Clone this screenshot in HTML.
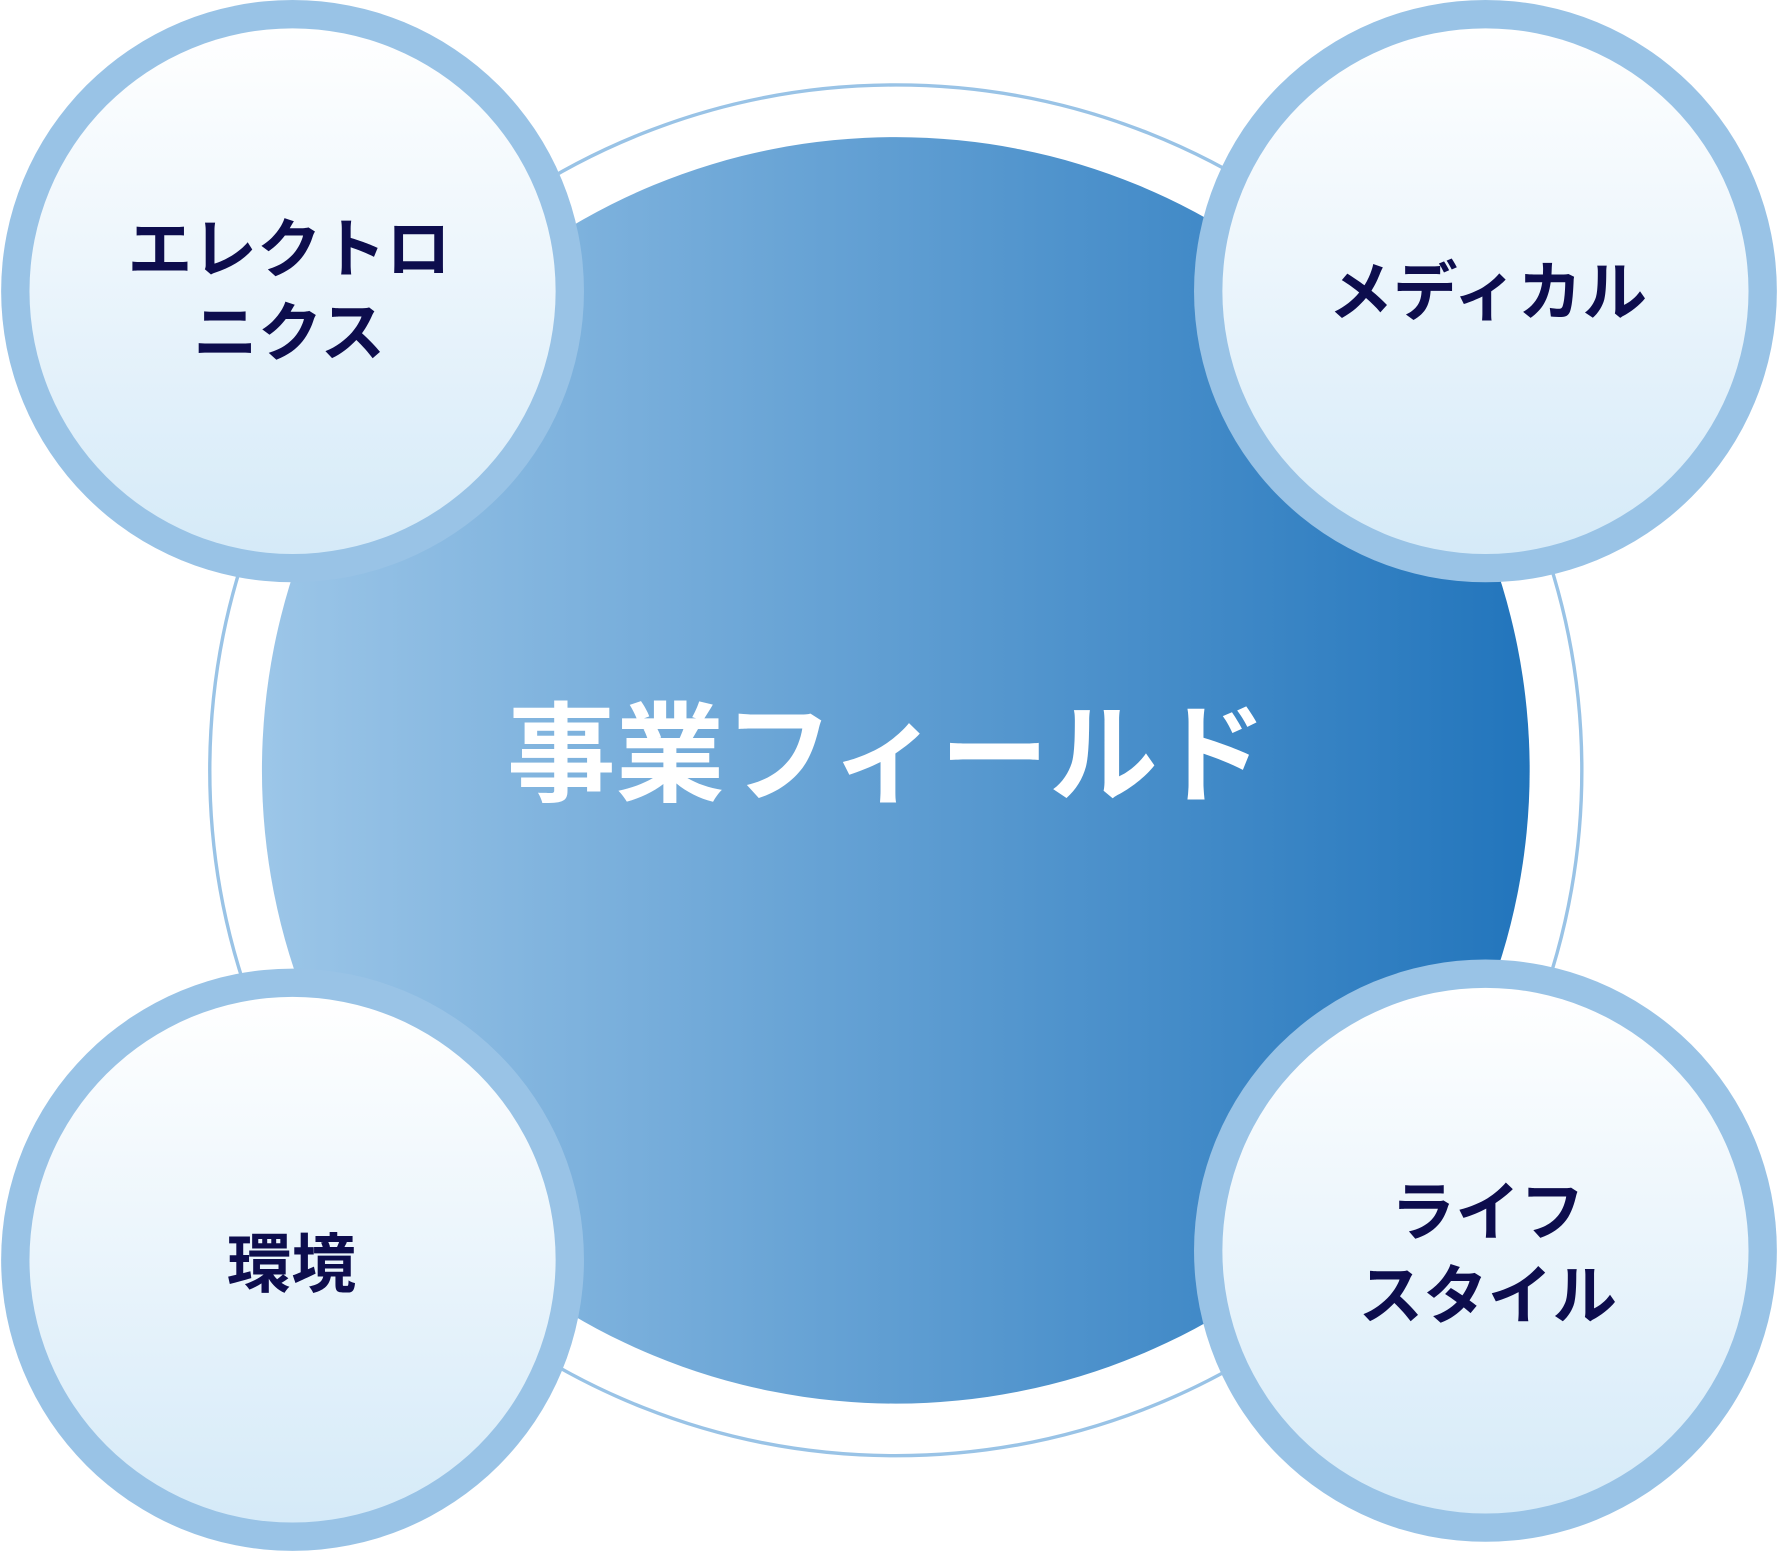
<!DOCTYPE html>
<html><head><meta charset="utf-8"><style>
html,body{margin:0;padding:0;background:#fff;}
svg{display:block;}
text{font-family:"Liberation Sans","Noto Sans CJK JP",sans-serif;font-weight:bold;}
</style></head><body>
<svg width="1778" height="1552" viewBox="0 0 1568 1370" preserveAspectRatio="none" xmlns="http://www.w3.org/2000/svg">
<defs>
<linearGradient id="big" x1="0" y1="0" x2="1" y2="0">
<stop offset="0" stop-color="#9cc6e8"/>
<stop offset="1" stop-color="#2275bc"/>
</linearGradient>
<linearGradient id="small" x1="0" y1="0" x2="0" y2="1">
<stop offset="0" stop-color="#ffffff"/>
<stop offset="1" stop-color="#d5eaf8"/>
</linearGradient>
</defs>
<rect width="1568" height="1370" fill="#fff"/>
<circle cx="790" cy="680" r="605" fill="none" stroke="#99c3e6" stroke-width="3"/>
<circle cx="790" cy="680" r="559" fill="url(#big)"/>
<text x="782" y="700" font-size="96" fill="#fff" text-anchor="middle">事業フィールド</text>

<g>
<circle cx="258" cy="257" r="257" fill="#99c3e6"/>
<circle cx="258" cy="257" r="232" fill="url(#small)"/>
<text x="255" y="240" font-size="57" fill="#0d0d4d" text-anchor="middle">エレクトロ</text>
<text x="255" y="314" font-size="57" fill="#0d0d4d" text-anchor="middle">ニクス</text>
</g>
<g>
<circle cx="1310" cy="257" r="257" fill="#99c3e6"/>
<circle cx="1310" cy="257" r="232" fill="url(#small)"/>
<text x="1312" y="278" font-size="57" fill="#0d0d4d" text-anchor="middle">メディカル</text>
</g>
<g>
<circle cx="258" cy="1112" r="257" fill="#99c3e6"/>
<circle cx="258" cy="1112" r="232" fill="url(#small)"/>
<text x="257" y="1136" font-size="57" fill="#0d0d4d" text-anchor="middle">環境</text>
</g>
<g>
<circle cx="1310" cy="1104" r="257" fill="#99c3e6"/>
<circle cx="1310" cy="1104" r="232" fill="url(#small)"/>
<text x="1312" y="1090" font-size="57" fill="#0d0d4d" text-anchor="middle">ライフ</text>
<text x="1312" y="1164" font-size="57" fill="#0d0d4d" text-anchor="middle">スタイル</text>
</g>
</svg>
</body></html>
